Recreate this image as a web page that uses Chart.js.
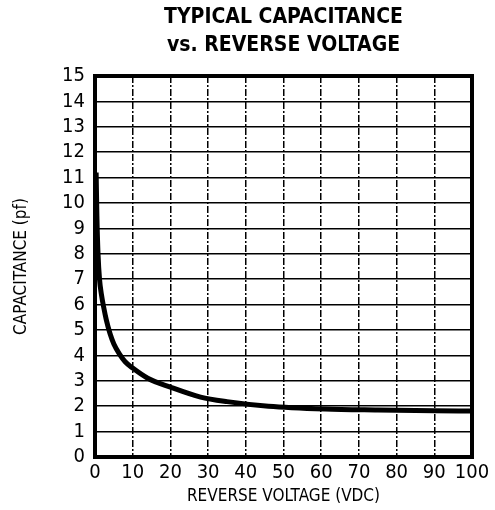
<!DOCTYPE html>
<html lang="en">
<head>
  <meta charset="UTF-8">
  <title>Typical Capacitance vs. Reverse Voltage</title>
  <script src="https://cdn.jsdelivr.net/npm/chart.js"></script>
  <style>
    body { margin: 0; background: #fff; }
    #wrap { width: 495px; height: 510px; }
  </style>
</head>
<body>
  <div id="wrap"><canvas id="capChart" width="495" height="510"></canvas></div>

  <script>
    const titleLines = ['TYPICAL CAPACITANCE', 'vs. REVERSE VOLTAGE'];
    const xTitle = 'REVERSE VOLTAGE (VDC)';
    const yTitle = 'CAPACITANCE (pf)';

    const voltage     = [0.3, 0.5, 0.8, 1.2, 1.7, 2.3, 3.0, 4.0, 5, 6.5, 8, 10, 14, 20, 28, 35, 46, 61, 75, 90, 100];
    const capacitance = [11.2, 9.5, 8.0, 7.0, 6.4, 5.9, 5.4, 4.85, 4.45, 4.05, 3.75, 3.5, 3.1, 2.75, 2.36, 2.18, 2.0, 1.89, 1.85, 1.82, 1.81];

    const xTicks = [0, 10, 20, 30, 40, 50, 60, 70, 80, 90, 100];
    const yTicks = [0, 1, 2, 3, 4, 5, 6, 7, 8, 9, 10, 11, 12, 13, 14, 15];

    const FONT = '"Liberation Sans Narrow", "DejaVu Sans Condensed", "Liberation Sans", sans-serif';

    const frame = {
      id: 'frame',
      afterDraw(chart) {
        const { ctx, chartArea: a } = chart;
        ctx.save();
        ctx.strokeStyle = '#000';
        ctx.lineWidth = 4;
        ctx.strokeRect(a.left, a.top, a.right - a.left, a.bottom - a.top);

        ctx.fillStyle = '#000';
        ctx.textAlign = 'center';
        ctx.textBaseline = 'middle';
        ctx.font = 'bold 21px ' + FONT;
        const cx = (a.left + a.right) / 2;
        ctx.fillText(titleLines[0], cx, 18);
        ctx.fillText(titleLines[1], cx, 46);

        ctx.font = '17px ' + FONT;
        ctx.fillText(xTitle, cx, 497);
        ctx.translate(22, (a.top + a.bottom) / 2);
        ctx.rotate(-Math.PI / 2);
        ctx.fillText(yTitle, 0, 0);
        ctx.restore();
      }
    };

    new Chart(document.getElementById('capChart'), {
      type: 'line',
      data: {
        datasets: [{
          data: voltage.map((v, i) => ({ x: v, y: capacitance[i] })),
          borderColor: '#000',
          borderWidth: 5,
          pointRadius: 0,
          cubicInterpolationMode: 'monotone',
          fill: false
        }]
      },
      options: {
        responsive: false,
        animation: false,
        layout: { padding: { top: 76, right: 23, left: 0, bottom: 0 } },
        plugins: { legend: { display: false }, tooltip: { enabled: false } },
        scales: {
          x: {
            type: 'linear',
            min: 0, max: 100,
            afterBuildTicks: s => { s.ticks = xTicks.map(v => ({ value: v })); },
            afterFit: s => { s.height = 53; },
            grid: { color: '#000', lineWidth: 1.5, drawTicks: false },
            border: { display: false, dash: [7, 2, 2, 2] },
            ticks: { color: '#000', padding: 4, autoSkip: false, maxRotation: 0, minRotation: 0,
                     font: { family: FONT, size: 20 } }
          },
          y: {
            min: 0, max: 15,
            afterBuildTicks: s => { s.ticks = yTicks.map(v => ({ value: v })); },
            afterFit: s => { s.width = 95; },
            grid: { color: '#000', lineWidth: 1.5, drawTicks: false },
            border: { display: false },
            ticks: { color: '#000', padding: 10, autoSkip: false, font: { family: FONT, size: 20 } }
          }
        }
      },
      plugins: [frame]
    });
  </script>
</body>
</html>
